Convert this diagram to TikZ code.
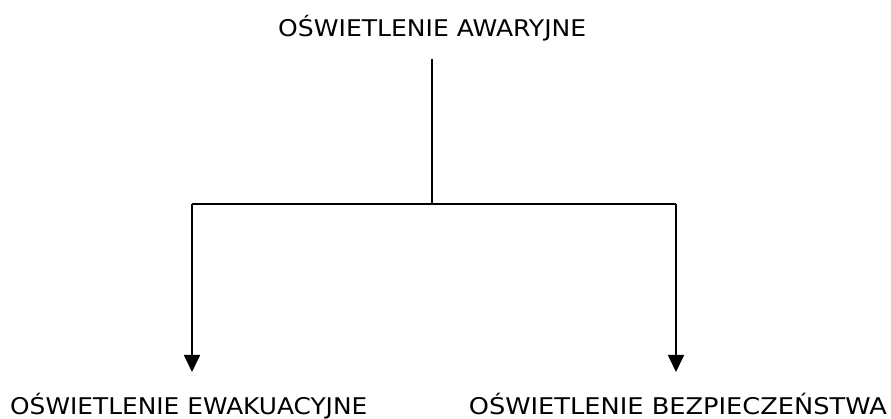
\documentclass[tikz,border=0pt]{standalone}
\usepackage{graphicx}
\usepackage{fontspec}
\setmainfont{DejaVu Sans}
\usetikzlibrary{arrows.meta}
\begin{document}
\begin{tikzpicture}[x=1pt,y=1pt,
  lbl/.style={inner sep=0pt,font=\fontsize{23}{27}\selectfont},
  conn/.style={line width=1.8pt},
  arr/.style={conn,-{Triangle[width=16pt,length=17pt]}}]
\useasboundingbox (0,0) rectangle (891,419);
\node[lbl,anchor=base west] (top) at (278,382.3) {\resizebox{308pt}{\height}{OŚWIETLENIE AWARYJNE}};
\node[lbl,anchor=base west] (left) at (10,4.7) {\resizebox{357pt}{\height}{OŚWIETLENIE EWAKUACYJNE}};
\node[lbl,anchor=base east] (right) at (887,4.7) {\resizebox{418pt}{\height}{OŚWIETLENIE BEZPIECZEŃSTWA}};
\coordinate (a) at (432,360);
\coordinate (j) at (432,215);
\coordinate (jl) at (192,215);
\coordinate (jr) at (676,215);
\coordinate (tl) at (192,47);
\coordinate (tr) at (676,47);
\draw[conn] (a) -- (j);
\draw[conn] (jl) -- (jr);
\draw[arr] (jl) -- (tl);
\draw[arr] (jr) -- (tr);
\end{tikzpicture}
\end{document}
